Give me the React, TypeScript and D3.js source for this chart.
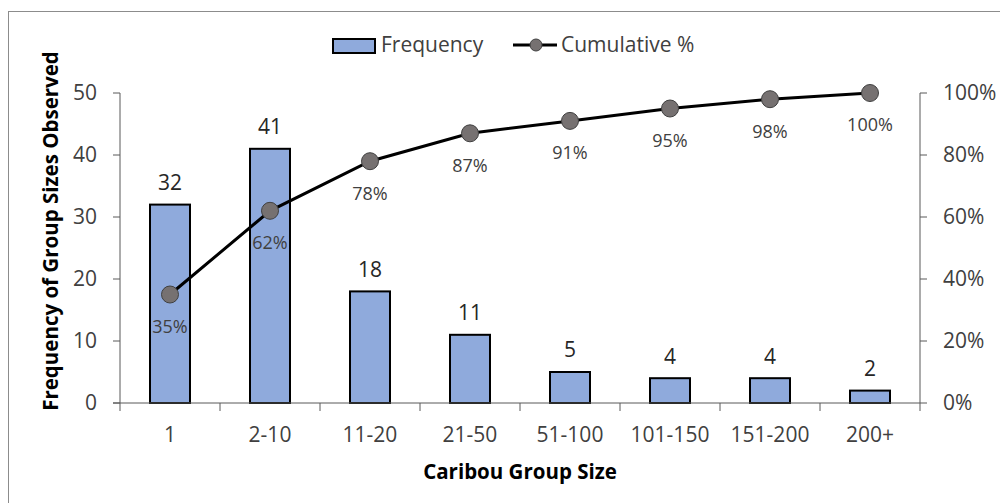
import React from "react";
import * as d3 from "d3";

const categories = ["1", "2-10", "11-20", "21-50", "51-100", "101-150", "151-200", "200+"];
const frequency = [32, 41, 18, 11, 5, 4, 4, 2];
const cumulative = [35, 62, 78, 87, 91, 95, 98, 100];
const leftTicks = [0, 10, 20, 30, 40, 50];
const rightTicks = [0, 20, 40, 60, 80, 100];

const W = 1000;
const H = 503;
const FONT = "'Open Sans', 'Noto Sans', sans-serif";

export default function App() {
  const left = 120, right = 920, top = 93, bottom = 403;
  const x = d3.scaleBand<string>().domain(categories).range([left, right]).paddingInner(0.6).paddingOuter(0.3);
  const xb = d3.scaleBand<string>().domain(categories).range([left, right]);
  const y = d3.scaleLinear().domain([0, 50]).range([bottom, top]);
  const y2 = d3.scaleLinear().domain([0, 100]).range([bottom, top]);
  const line = d3
    .line<number>()
    .x((_, i) => xb(categories[i])! + xb.bandwidth() / 2)
    .y((d) => y2(d));
  const axisColor = "#595959";
  const textColor = "#404040";
  const fs = 21;

  return (
    <svg width={W} height={H} style={{ position: "fixed", left: 0, top: 0, background: "#fff" }} fontFamily={FONT}>
      <rect x={0} y={0} width={W} height={H} fill="#fff" />
      <rect x={8.5} y={11.5} width={1100} height={600} fill="none" stroke="#8c8c8c" strokeWidth={1} />

      {/* bars */}
      {frequency.map((v, i) => (
        <rect
          key={"b" + i}
          x={x(categories[i])!}
          y={y(v)}
          width={x.bandwidth()}
          height={bottom - y(v)}
          fill="#8faadc"
          stroke="#000"
          strokeWidth={2}
        />
      ))}

      {/* axes */}
      <line x1={left} x2={left} y1={top} y2={bottom} stroke={axisColor} strokeWidth={1} />
      <line x1={right} x2={right} y1={top} y2={bottom + 8} stroke={axisColor} strokeWidth={1} />
      <line x1={left - 7} x2={right} y1={bottom} y2={bottom} stroke={axisColor} strokeWidth={1} />
      {leftTicks.map((t) => (
        <g key={"lt" + t}>
          <line x1={left - 7} x2={left} y1={y(t)} y2={y(t)} stroke={axisColor} />
          <text x={97} y={y(t)} dy="0.35em" textAnchor="end" fontSize={fs} fill={textColor}>
            {t}
          </text>
        </g>
      ))}
      {rightTicks.map((t) => (
        <g key={"rt" + t}>
          <line x1={right} x2={right + 7} y1={y2(t)} y2={y2(t)} stroke={axisColor} />
          <text x={943} y={y2(t)} dy="0.35em" textAnchor="start" fontSize={fs} fill={textColor}>
            {t + "%"}
          </text>
        </g>
      ))}
      {categories.map((c, i) => (
        <line
          key={"xt" + i}
          x1={xb(c)!}
          x2={xb(c)!}
          y1={bottom}
          y2={bottom + 8}
          stroke={axisColor}
        />
      ))}
      {categories.map((c) => (
        <text
          key={"xl" + c}
          x={xb(c)! + xb.bandwidth() / 2}
          y={435}
          dy="0.35em"
          textAnchor="middle"
          fontSize={fs}
          fill={textColor}
        >
          {c}
        </text>
      ))}

      {/* bar labels */}
      {frequency.map((v, i) => (
        <text
          key={"bl" + i}
          x={x(categories[i])! + x.bandwidth() / 2}
          y={y(v) - 22}
          dy="0.35em"
          textAnchor="middle"
          fontSize={fs}
          fill="#262626"
        >
          {v}
        </text>
      ))}

      {/* cumulative line */}
      <path d={line(cumulative)!} fill="none" stroke="#000" strokeWidth={3} />
      {cumulative.map((v, i) => (
        <circle
          key={"c" + i}
          cx={xb(categories[i])! + xb.bandwidth() / 2}
          cy={y2(v)}
          r={8.5}
          fill="#767171"
          stroke="#404040"
          strokeWidth={1}
        />
      ))}
      {cumulative.map((v, i) => (
        <text
          key={"cl" + i}
          x={xb(categories[i])! + xb.bandwidth() / 2}
          y={y2(v) + 32}
          dy="0.35em"
          textAnchor="middle"
          fontSize={18}
          fill={textColor}
        >
          {v + "%"}
        </text>
      ))}

      {/* axis titles */}
      <text x={520} y={472} dy="0.35em" textAnchor="middle" fontSize={20.5} fontWeight="bold" fill="#000">
        Caribou Group Size
      </text>
      <text
        transform={`translate(51, 231) rotate(-90)`}
        dy="0.35em"
        textAnchor="middle"
        fontSize={20.5}
        fontWeight="bold"
        fill="#000"
      >
        Frequency of Group Sizes Observed
      </text>

      {/* legend */}
      <rect x={333} y={39} width={42} height={14} fill="#8faadc" stroke="#000" strokeWidth={2} />
      <text x={381} y={45} dy="0.35em" fontSize={fs} fill={textColor}>
        Frequency
      </text>
      <line x1={513} x2={557} y1={45} y2={45} stroke="#000" strokeWidth={3} />
      <circle cx={536} cy={45} r={6} fill="#767171" stroke="#404040" strokeWidth={1} />
      <text x={561} y={45} dy="0.35em" fontSize={fs} fill={textColor}>
        Cumulative %
      </text>
    </svg>
  );
}
